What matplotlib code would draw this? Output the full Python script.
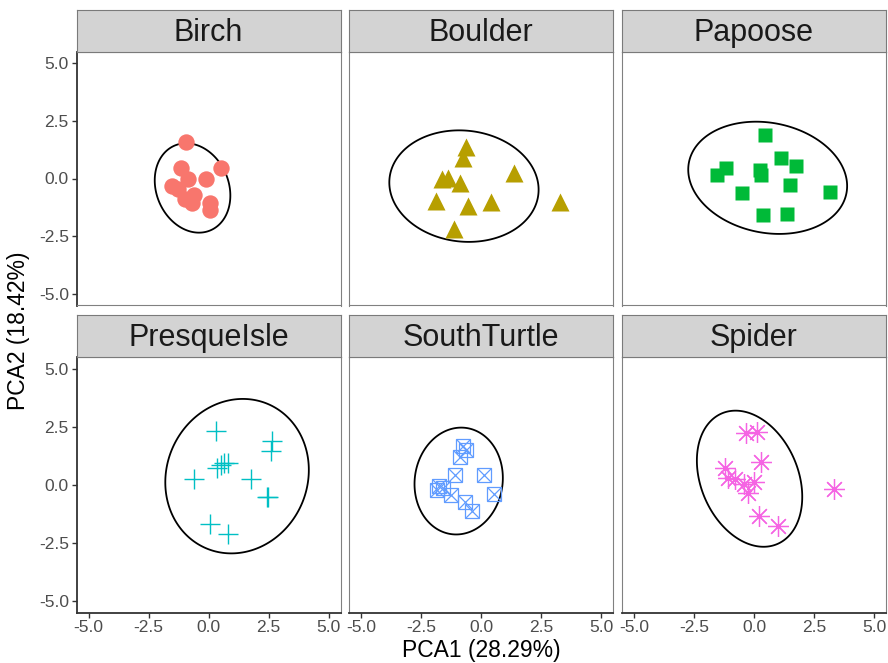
import numpy as np
import matplotlib
matplotlib.use("Agg")
import matplotlib.pyplot as plt
from matplotlib.patches import Polygon

plt.rcParams['font.family'] = ['Liberation Sans', 'DejaVu Sans']

sites = ["Birch", "Boulder", "Papoose", "PresqueIsle", "SouthTurtle", "Spider"]
colors = ["#F8766D", "#B79F00", "#00BA38", "#00BFC4", "#619CFF", "#F564E3"]

birch_x = [-0.92, -1.15, 0.50, -0.85, -0.10, -1.54, -1.26, -0.61, -0.96, -0.68, 0.07, 0.07]
birch_y = [1.59, 0.47, 0.47, -0.01, -0.03, -0.32, -0.47, -0.71, -0.89, -1.07, -1.07, -1.36]
boulder_x = [-0.61, -0.76, 1.36, -1.61, -1.36, -0.87, -1.89, 0.40, -0.54, 3.29, -1.12]
boulder_y = [1.35, 0.87, 0.23, -0.02, 0.03, -0.18, -0.96, -1.00, -1.19, -1.03, -2.20]
papoose_x = [0.46, 1.12, 1.75, -1.17, -1.54, 0.26, 0.29, 1.48, -0.51, 3.17, 0.37, 1.36]
papoose_y = [1.88, 0.90, 0.54, 0.47, 0.14, 0.37, 0.14, -0.28, -0.64, -0.57, -1.58, -1.54]
presque_x = [0.31, 2.66, 2.60, 0.66, 0.81, 0.35, 0.53, -0.62, 1.76, 2.43, 2.49, 0.06, 0.83]
presque_y = [2.32, 1.89, 1.45, 0.92, 0.92, 0.73, 0.85, 0.25, 0.25, -0.52, -0.52, -1.69, -2.12]
south_x = [-0.77, -0.61, -0.86, -1.08, 0.11, -1.73, -1.83, -1.59, -1.27, 0.56, -0.66, -0.36]
south_y = [1.68, 1.50, 1.21, 0.42, 0.42, -0.04, -0.23, -0.13, -0.44, -0.41, -0.73, -1.12]
spider_x = [-0.34, 0.14, 0.28, -1.20, -1.09, -0.79, -0.42, 0.00, -0.24, 0.21, 0.98, 3.32]
spider_y = [2.22, 2.29, 0.99, 0.73, 0.30, 0.25, 0.02, 0.13, -0.37, -1.33, -1.77, -0.20]

xs = [birch_x, boulder_x, papoose_x, presque_x, south_x, spider_x]
ys = [birch_y, boulder_y, papoose_y, presque_y, south_y, spider_y]

# ellipse parameters: centre, half-extent in x and y, correlation
ell_cx = [-0.665, -0.71, 0.57, 1.19, -0.93, -0.185]
ell_cy = [-0.41, -0.33, 0.03, 0.37, 0.16, 0.26]
ell_hx = [1.575, 3.11, 3.31, 2.99, 1.84, 2.195]
ell_hy = [1.935, 2.415, 2.43, 3.325, 2.30, 2.93]
ell_rho = [-0.17, -0.065, -0.146, 0.08, 0.057, -0.266]

ticks = [-5.0, -2.5, 0.0, 2.5, 5.0]
tick_labels = ["-5.0", "-2.5", "0.0", "2.5", "5.0"]

W, H = 888, 663
fig = plt.figure(figsize=(W / 100, H / 100), dpi=100)

col_left = [76.5, 349.0, 622.0]
col_w = 264.0
strip_top = [9.5, 314.5]
panel_top = [51.5, 357.0]
panel_bot = [305.5, 612.5]

tick_col = "#4D4D4D"

def draw_marker(ax, i, x, y, c):
    if i == 0:
        ax.plot(x, y, 'o', ms=11.8, color=c, mec='none', ls='none')
    elif i == 1:
        ax.plot(x, y, '^', ms=13.5, color=c, mec='none', ls='none')
    elif i == 2:
        ax.plot(x, y, 's', ms=10.5, color=c, mec='none', ls='none')
    elif i == 3:
        ax.plot(x, y, '+', ms=15, color=c, mew=1.0, ls='none')
    elif i == 4:
        ax.plot(x, y, 's', ms=10.5, mfc='none', mec=c, mew=0.9, ls='none')
        ax.plot(x, y, 'x', ms=10.5, color=c, mew=0.9, ls='none')
    else:
        ax.plot(x, y, marker=(8, 2, 0), ms=15, color=c, mew=0.9, ls='none')

for i, name in enumerate(sites):
    r, cidx = divmod(i, 3)
    l = col_left[cidx]
    top = panel_top[r]
    bot = panel_bot[r]
    ax = fig.add_axes([l / W, 1 - bot / H, col_w / W, (bot - top) / H])
    ax.set_xlim(-5.5, 5.5)
    ax.set_ylim(-5.5, 5.5)
    ax.set_facecolor("white")
    for s in ax.spines.values():
        s.set_color("#808080")
        s.set_linewidth(0.8)
    ax.set_xticks(ticks)
    ax.set_yticks(ticks)
    if cidx == 0:
        ax.spines['left'].set_color("#333333")
        ax.spines['left'].set_linewidth(1.3)
        ax.set_yticklabels(tick_labels)
        ax.tick_params(axis='y', length=3.5, width=1.0, color="#333333",
                       labelsize=12.5, labelcolor=tick_col, pad=2)
    else:
        ax.tick_params(axis='y', left=False, labelleft=False)
    if r == 1:
        ax.spines['bottom'].set_color("#333333")
        ax.spines['bottom'].set_linewidth(1.3)
        ax.set_xticklabels(tick_labels)
        ax.tick_params(axis='x', length=3.5, width=1.0, color="#333333",
                       labelsize=12.5, labelcolor=tick_col, pad=2)
    else:
        ax.tick_params(axis='x', bottom=False, labelbottom=False)

    t = np.linspace(0, 2 * np.pi, 360, endpoint=False)
    rho = ell_rho[i]
    ex = ell_cx[i] + ell_hx[i] * np.cos(t)
    ey = ell_cy[i] + ell_hy[i] * (rho * np.cos(t) + np.sqrt(1 - rho ** 2) * np.sin(t))
    ax.add_patch(Polygon(np.column_stack([ex, ey]), closed=True, fill=False,
                         edgecolor="black", lw=1.3, joinstyle='round'))
    draw_marker(ax, i, xs[i], ys[i], colors[i])

    # strip
    sax = fig.add_axes([l / W, 1 - top / H, col_w / W, (top - strip_top[r]) / H])
    sax.set_xticks([]); sax.set_yticks([])
    sax.set_facecolor("#D3D3D3")
    for s in sax.spines.values():
        s.set_color("#7A7A7A")
        s.set_linewidth(0.8)
    sax.text(0.5, 0.45, name, ha='center', va='center', fontsize=22,
             color="#1A1A1A", transform=sax.transAxes)

fig.text(481 / W, 1 - 651 / H, "PCA1 (28.29%)", ha='center', va='center',
         fontsize=16.5, color="black")
fig.text(19 / W, 1 - 331 / H, "PCA2 (18.42%)", ha='center', va='center',
         rotation=90, fontsize=16.5, color="black")

fig.savefig("out.png", dpi=100)
